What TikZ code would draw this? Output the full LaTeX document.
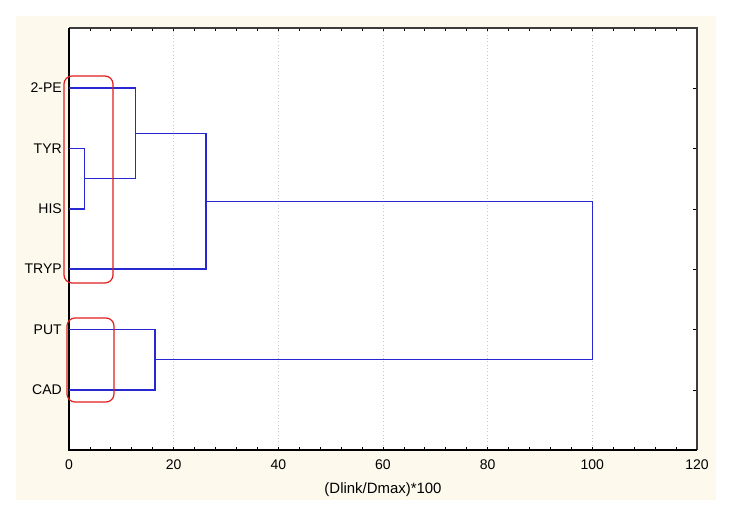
\documentclass[tikz,border=0pt]{standalone}
\usepackage{fontspec}
\setmainfont{Liberation Sans}
\definecolor{dblue}{RGB}{40,40,210}
\definecolor{gred}{RGB}{225,30,30}
\definecolor{gridgray}{RGB}{200,200,200}
\definecolor{framegray}{RGB}{60,60,60}
\definecolor{cream}{RGB}{253,249,237}
\begin{document}
\begin{tikzpicture}[x=0.75pt,y=-0.75pt,
  lbl/.style={font=\fontsize{10.5pt}{12pt}\selectfont, inner sep=0pt},
  ttl/.style={font=\fontsize{11.2pt}{13pt}\selectfont, inner sep=0pt},
  dendro/.style={draw=dblue, line width=0.85pt},
  grp/.style={draw=gred, line width=0.9pt, rounded corners=6pt},
  gridline/.style={draw=gridgray, line width=0.5pt, dotted},
  frame/.style={draw=framegray, line width=0.9pt},
  tickmark/.style={draw=black, line width=0.6pt}]
\useasboundingbox (0,0) rectangle (729,513);
\fill[white] (0,0) rectangle (729,513);
\fill[cream] (16,16) rectangle (716,500);
\fill[white] (69,28) rectangle (697,450);
% grid lines
\foreach \v in {20,40,60,80,100} {
  \pgfmathsetmacro{\px}{69+5.2333*\v}
  \draw[gridline] (\px,28) -- (\px,450);
}
% ticks on bottom and top
\foreach \v in {4,8,...,116} {
  \pgfmathsetmacro{\px}{69+5.2333*\v}
  \draw[tickmark] (\px,450) -- (\px,447);
  \draw[tickmark] (\px,28) -- (\px,31);
}
% ticks on right
\foreach \yy in {88,148.5,209,269,329.5,390} {
  \draw[tickmark] (697,\yy) -- (693,\yy);
}
% frame
\draw[frame] (69,28) -- (697,28) -- (697,450);
\draw[draw=black, line width=0.9pt] (69,28) -- (69,450) -- (697,450);
% x tick labels
\foreach \v in {0,20,40,60,80,100,120} {
  \pgfmathsetmacro{\px}{69+5.2333*\v}
  \node[lbl] (t\v) at (\px,465) {\v};
}
\node[ttl] (xtitle) at (383,490) {(Dlink/Dmax)*100};
% leaves
\coordinate (pe) at (69,88);
\coordinate (tyr) at (69,148.5);
\coordinate (his) at (69,209);
\coordinate (tryp) at (69,269);
\coordinate (put) at (69,329.5);
\coordinate (cad) at (69,390);
\node[lbl, anchor=east] (lpe) at (62,88) {2-PE};
\node[lbl, anchor=east] (ltyr) at (62,148.5) {TYR};
\node[lbl, anchor=east] (lhis) at (62,209) {HIS};
\node[lbl, anchor=east] (ltryp) at (62,269) {TRYP};
\node[lbl, anchor=east] (lput) at (62,329.5) {PUT};
\node[lbl, anchor=east] (lcad) at (62,390) {CAD};
% merges
\coordinate (m1) at (84.7,178.75);
\coordinate (m2) at (135.3,133.4);
\coordinate (m3) at (206,201.2);
\coordinate (m4) at (155,359.75);
\coordinate (m5) at (592.3,280.5);
\draw[dendro] (tyr) -| (m1) |- (his);
\draw[dendro] (pe) -| (m2) |- (m1);
\draw[dendro] (m2) -| (m3) |- (tryp);
\draw[dendro] (put) -| (m4) |- (cad);
\draw[dendro] (m3) -| (m5) |- (m4);
% red groups
\draw[grp] (64,76) rectangle (113,283);
\draw[grp] (67,318) rectangle (114,402);
\end{tikzpicture}
\end{document}
